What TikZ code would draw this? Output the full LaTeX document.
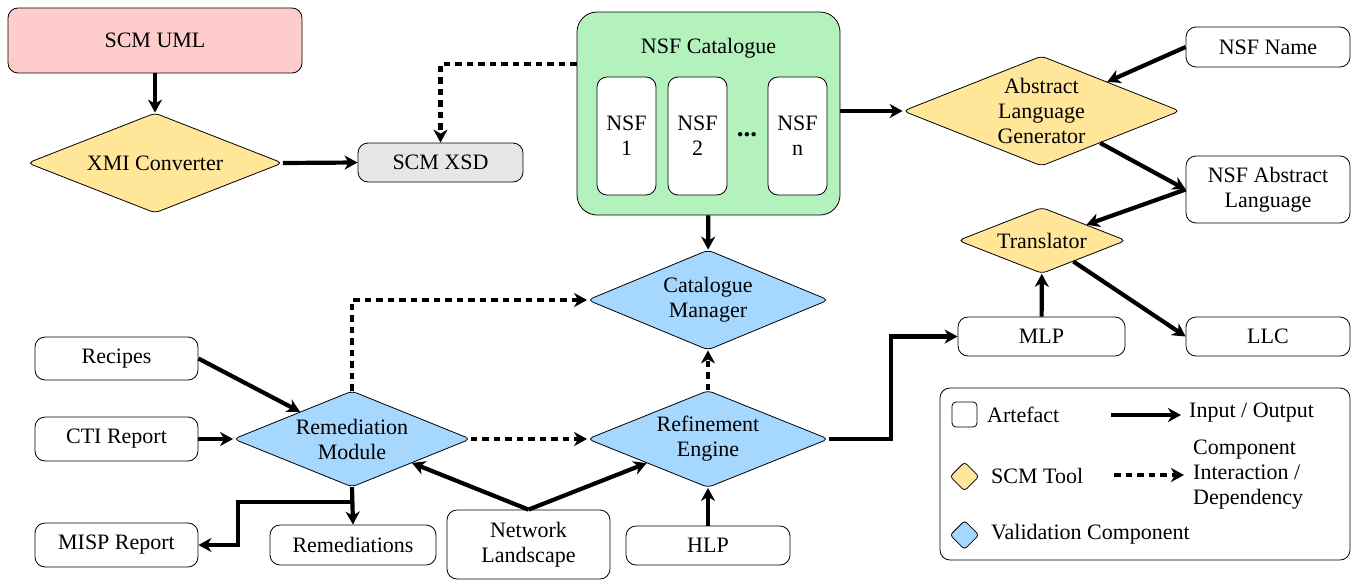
\documentclass[tikz,border=0pt]{standalone}
\usepackage{fontspec}
\setmainfont{Liberation Serif}
\usepackage{xcolor}
\definecolor{scmpink}{RGB}{255,204,204}
\definecolor{scmyellow}{RGB}{255,230,153}
\definecolor{scmblue}{RGB}{166,215,255}
\definecolor{scmgreen}{RGB}{179,242,188}
\definecolor{scmgrey}{RGB}{230,230,230}
\usepackage{tikz}
\usetikzlibrary{shapes.geometric}
\usetikzlibrary{arrows.meta}
\tikzset{
    common/.style={draw, line width=0.8pt, align=center, inner sep=0pt},
    artefact/.style={common, rectangle, rounded corners=10pt, fill=white},
    tool/.style={common, diamond, aspect=2.5, rounded corners=5pt, fill=scmyellow},
    validation/.style={tool, fill=scmblue},
    legendtext/.style={anchor=west, inner sep=0pt, align=left},
    io/.style={-{Stealth[length=13pt, width=14pt, inset=4pt]}, line width=4.2pt},
    dep/.style={io, dash pattern=on 6.5pt off 5pt}
}

\begin{document}
\begin{tikzpicture}[x=1pt, y=-1pt, font=\fontsize{22}{25}\selectfont]
      \useasboundingbox (0,0) rectangle (1354,581);

      % schema side
      \node[artefact, fill=scmpink, minimum width=294pt, minimum height=65pt] (scm-uml) at (155,40.5) {SCM UML};
      \node[tool, minimum width=255pt, minimum height=100pt] (xmi-converter) at (155,163) {XMI Converter};
      \node[artefact, fill=scmgrey, minimum width=165pt, minimum height=39pt] (scm-xsd) at (440.5,162.5) {SCM XSD};

      % catalogue
      \node[artefact, fill=scmgreen, rounded corners=20pt, minimum width=263pt, minimum height=203pt] (nsf-catalogue) at (708.5,113.5) {};
      \node (nsf-catalogue-label) at (708.5,48) {NSF Catalogue};
      \node[artefact, minimum width=59pt, minimum height=118pt] (nsf-1) at (626.5,136) {NSF\\1};
      \node[artefact, minimum width=59pt, minimum height=118pt] (nsf-2) at (697.5,136) {NSF\\2};
      \node[font=\fontsize{27}{27}\selectfont\bfseries] (nsf-dots) at (747,135) {...};
      \node[artefact, minimum width=59pt, minimum height=118pt] (nsf-n) at (797.5,136) {NSF\\n};

      % language side
      \node[tool, minimum width=277pt, minimum height=110pt] (abstract-language-generator) at (1041.5,111) {Abstract\\Language\\Generator};
      \node[artefact, minimum width=164pt, minimum height=40pt] (nsf-name) at (1268,47) {NSF Name};
      \node[artefact, minimum width=164pt, minimum height=67pt] (nsf-abstract-language) at (1268,189.5) {NSF Abstract\\Language};
      \node[tool, minimum width=168pt, minimum height=66pt] (translator) at (1042,240.5) {Translator};
      \node[artefact, minimum width=167pt, minimum height=39pt] (mlp) at (1041.5,336.5) {MLP};
      \node[artefact, minimum width=164pt, minimum height=39pt] (llc) at (1268,336.5) {LLC};

      % validation
      \node[validation, minimum width=241pt, minimum height=100pt] (catalogue-manager) at (708,300) {Catalogue\\Manager};
      \node[validation, minimum width=241pt, minimum height=97pt] (refinement-engine) at (708,439) {Refinement\\Engine};
      \node[validation, minimum width=237pt, minimum height=96pt] (remediation-module) at (352,439) {Remediation\\Module};

      \node[artefact, minimum width=163pt, minimum height=43pt] (recipes) at (116.5,358.5) {Recipes};
      \node[artefact, minimum width=163pt, minimum height=44pt] (cti-report) at (116.5,439) {CTI Report};
      \node[artefact, minimum width=163pt, minimum height=44pt] (misp-report) at (116.5,545) {MISP Report};
      \node[artefact, minimum width=166pt, minimum height=40pt] (remediations) at (353,545) {Remediations};
      \node[artefact, minimum width=163pt, minimum height=69pt] (network-landscape) at (528.5,544.5) {Network\\Landscape};
      \node[artefact, minimum width=164pt, minimum height=39pt] (hlp) at (708,545.5) {HLP};

      \coordinate (misp-bend) at (238,502);
      \coordinate (mlp-bend) at (891,439);

      \draw[io] (scm-uml) -- (xmi-converter);
      \draw[io] (xmi-converter.east) -- (scm-xsd.west);
      \draw[dep] ([yshift=49.5pt]nsf-catalogue.west) -| (scm-xsd.north);
      \draw[io] (nsf-catalogue.east |- abstract-language-generator.west) -- (abstract-language-generator.west);
      \draw[io] (nsf-name.west) -- (abstract-language-generator);
      \draw[io] (abstract-language-generator) -- (nsf-abstract-language.west);
      \draw[io] (nsf-abstract-language.west) -- (translator);
      \draw[io] (translator) -- (llc.west);
      \draw[io] (mlp) -- (translator);
      \draw[io] (nsf-catalogue) -- (catalogue-manager);

      \draw[dep] (refinement-engine) -- (catalogue-manager);
      \draw[dep] (remediation-module.north) |- (catalogue-manager.west);
      \draw[dep] (remediation-module.east) -- (refinement-engine.west);

      \draw[io] (recipes.east) -- (remediation-module);
      \draw[io] (cti-report.east) -- (remediation-module.west);
      \draw[io] (remediation-module.south) |- (misp-bend) |- (misp-report.east);
      \draw[io] (remediation-module.south) -- (remediations.north);
      \draw[io] (network-landscape.north) -- (remediation-module);
      \draw[io] (network-landscape.north) -- (refinement-engine);
      \draw[io] (hlp) -- (refinement-engine);
      \draw[io] (refinement-engine.east) -- (mlp-bend) |- (mlp.west);

      % legend
      \node[artefact, minimum width=410pt, minimum height=172pt] (legend) at (1145,474) {};
      \node[artefact, rounded corners=4pt, minimum width=25pt, minimum height=25pt] (legend-artefact) at (964.5,414.5) {};
      \node[legendtext] (legend-artefact-text) at (987,415) {Artefact};
      \node[tool, rounded corners=3pt, minimum width=29pt, minimum height=29pt] (legend-tool) at (964.5,476.5) {};
      \node[legendtext] (legend-tool-text) at (991,476) {SCM Tool};
      \node[validation, rounded corners=3pt, minimum width=29pt, minimum height=29pt] (legend-validation) at (964.5,535) {};
      \node[legendtext] (legend-validation-text) at (991,534) {Validation Component};

      \coordinate (legend-io-start) at (1111,415);
      \coordinate (legend-io-end) at (1181,415);
      \coordinate (legend-dep-start) at (1114,475);
      \coordinate (legend-dep-end) at (1184,475);
      \draw[io] (legend-io-start) -- (legend-io-end);
      \draw[dep] (legend-dep-start) -- (legend-dep-end);
      \node[legendtext] (legend-io-text) at (1189,413) {Input / Output};
      \node[legendtext] (legend-dep-text) at (1193,475) {Component\\Interaction /\\Dependency};
\end{tikzpicture}
\end{document}
